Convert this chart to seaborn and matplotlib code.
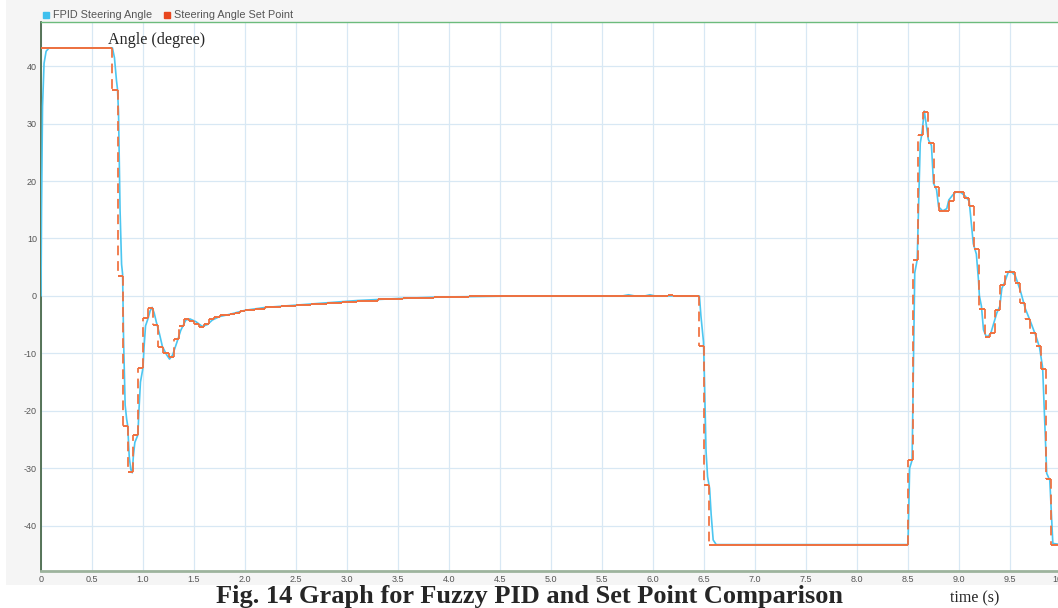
import numpy as np
import pandas as pd
import matplotlib
matplotlib.use("Agg")
import matplotlib.pyplot as plt
import seaborn as sns
from matplotlib.lines import Line2D
from matplotlib.patches import Rectangle

# set point (zero-order hold): change times and held values
sp_time = [0.00, 0.70, 0.75, 0.80, 0.85, 0.90, 0.95, 1.00,
           1.05, 1.10, 1.15, 1.20, 1.25, 1.30, 1.35, 1.40,
           1.45, 1.50, 1.55, 1.60, 1.65, 1.70, 1.75, 1.80,
           1.85, 1.90, 1.95, 2.00, 2.10, 2.20, 2.35, 2.50,
           2.65, 2.80, 2.95, 3.10, 3.30, 3.55, 3.85, 4.20,
           4.60, 6.15, 6.20, 6.45, 6.50, 6.55,
           8.50, 8.55, 8.60, 8.65, 8.70, 8.75, 8.80, 8.90,
           8.95, 9.05, 9.10, 9.15, 9.20, 9.25, 9.30, 9.35,
           9.40, 9.45, 9.55, 9.60, 9.65, 9.70, 9.75, 9.80,
           9.85, 9.90]
sp_value = [43.2, 35.8, 3.5, -22.6, -30.6, -24.2, -12.5, -3.9,
            -2.1, -5.1, -8.9, -10.0, -10.6, -7.5, -5.3, -4.1,
            -4.4, -4.9, -5.4, -4.9, -4.0, -3.7, -3.4, -3.3,
            -3.1, -3.0, -2.7, -2.4, -2.2, -2.0, -1.8, -1.6,
            -1.4, -1.2, -1.0, -0.8, -0.6, -0.4, -0.2, -0.1,
            0.0, 0.15, 0.0, -8.8, -33.0, -43.3,
            -28.6, 6.3, 28.1, 32.1, 26.6, 19.0, 14.8, 16.6,
            18.1, 17.0, 15.7, 8.1, -2.2, -7.2, -6.4, -2.4,
            1.9, 4.1, 2.2, -1.3, -4.1, -6.5, -8.8, -12.8,
            -31.8, -43.3]
sp_end = 10.0

# FPID steering angle response, read point by point
fpid_time = [0.00, 0.005, 0.015, 0.03, 0.05, 0.08, 0.70, 0.72, 0.74, 0.75,
             0.76, 0.775, 0.79, 0.80, 0.81, 0.825, 0.84, 0.85, 0.865, 0.88,
             0.895, 0.905, 0.92, 0.95, 0.96, 0.975, 1.00, 1.01, 1.025, 1.05,
             1.07, 1.09, 1.11, 1.13, 1.16, 1.19, 1.23, 1.26, 1.29, 1.33,
             1.37, 1.42, 1.46, 1.52, 1.58, 1.63, 1.68, 1.75, 1.85, 2.00,
             2.20, 2.50, 2.80, 3.10, 3.50, 3.90, 4.30, 4.70, 5.70, 5.76,
             5.82, 5.92, 5.97, 6.02, 6.455, 6.47, 6.495, 6.505, 6.52, 6.535,
             6.555, 6.57, 6.59, 6.62, 8.50, 8.516, 8.54, 8.566, 8.59, 8.62,
             8.635, 8.66, 8.70, 8.73, 8.75, 8.78, 8.80, 8.84, 8.88, 8.90,
             8.94, 8.97, 9.02, 9.06, 9.10, 9.14, 9.17, 9.19, 9.20, 9.22,
             9.24, 9.27, 9.31, 9.37, 9.40, 9.42, 9.45, 9.48, 9.50, 9.55,
             9.60, 9.65, 9.71, 9.76, 9.79, 9.82, 9.86, 9.89, 9.92, 10.0]
fpid_value = [0.0, 15.0, 33.0, 40.5, 42.6, 43.2, 43.2, 41.5, 37.5, 36.0,
              32.0, 15.0, 5.5, 3.8, -8.0, -19.0, -21.5, -22.6, -28.0, -30.2,
              -30.8, -28.0, -25.5, -24.2, -20.0, -15.0, -12.5, -9.0, -5.2, -3.9,
              -2.6, -2.0, -3.0, -4.5, -6.5, -8.8, -10.2, -11.0, -10.3, -8.2,
              -6.0, -4.2, -4.0, -4.5, -5.3, -5.0, -4.2, -3.6, -3.2, -2.5,
              -2.0, -1.6, -1.2, -0.8, -0.45, -0.2, -0.1, 0.0, 0.0, 0.2,
              0.0, 0.0, 0.2, 0.0, 0.0, -3.5, -8.0, -15.0, -27.0, -31.5,
              -33.5, -38.0, -42.5, -43.3, -43.3, -30.0, -28.6, 4.0, 6.3, 26.6,
              28.1, 32.2, 27.2, 26.2, 19.6, 18.5, 15.5, 14.8, 15.2, 16.7,
              17.6, 18.1, 18.0, 17.4, 16.5, 9.1, 7.3, 3.0, 0.0, -1.8,
              -5.9, -7.2, -6.6, -3.0, -1.8, 1.3, 2.5, 4.0, 4.4, 3.6,
              1.0, -2.2, -4.9, -7.3, -9.0, -12.5, -30.9, -32.1, -43.1, -43.3]

assert len(sp_time) == len(sp_value)
assert len(fpid_time) == len(fpid_value)

cyan = "#4cc6f0"
orange = "#f0703e"

sns.set_style("white")
plt.rcParams["font.family"] = ["Liberation Sans", "DejaVu Sans"]
plt.rcParams["axes.unicode_minus"] = False

fig = plt.figure(figsize=(10.58, 6.08), dpi=100)

# light panel behind the chart (the caption sits below it on white)
panel = Rectangle((6 / 1058, 23 / 608), 1 - 6 / 1058, 1 - 23 / 608,
                  transform=fig.transFigure, facecolor="#f5f5f5",
                  edgecolor="none", zorder=-10)
fig.patches.append(panel)

ax = fig.add_axes([41 / 1058, 37 / 608, 1020 / 1058, 549 / 608])
ax.set_zorder(1)
ax.set_facecolor("white")

df = pd.DataFrame({"time": fpid_time, "angle": fpid_value})
sns.lineplot(data=df, x="time", y="angle", ax=ax, color=cyan, lw=1.2,
             sort=False, estimator=None, zorder=3)

# set point: solid holds, dashed jumps
ends = sp_time[1:] + [sp_end]
ax.hlines(sp_value, sp_time, ends, colors=orange, lw=1.4, zorder=4)
ax.vlines(sp_time[1:], sp_value[:-1], sp_value[1:], colors=orange, lw=1.4,
          linestyles=(0, (5, 3)), zorder=4, alpha=0.9)

ax.set_xlim(0, 10)
ax.set_ylim(-47.9, 47.7)
ax.set_xticks(np.arange(0, 10.01, 0.5))
ax.set_xticklabels(["0"] + [f"{v:.1f}" for v in np.arange(0.5, 10.01, 0.5)])
ax.set_yticks([-40, -30, -20, -10, 0, 10, 20, 30, 40])
ax.grid(True, color="#d8e8f4", lw=0.9)
ax.set_axisbelow(True)
ax.tick_params(axis="both", labelsize=6.5, labelcolor="#555555",
               length=2, width=0.8, color="#555555", pad=1)
ax.set_xlabel("")
ax.set_ylabel("")

ax.spines["left"].set_color("#3d5e3d")
ax.spines["left"].set_linewidth(1.2)
ax.spines["bottom"].set_color("#9db39d")
ax.spines["bottom"].set_linewidth(2.0)
ax.spines["top"].set_color("#6cbb7c")
ax.spines["top"].set_linewidth(1.0)
ax.spines["right"].set_visible(False)

# legend across the top
handles = [Line2D([0], [0], marker="s", ls="none", color="#3fc0ee", markersize=5),
           Line2D([0], [0], marker="s", ls="none", color="#e8461e", markersize=5)]
fig.legend(handles, ["FPID Steering Angle", "Steering Angle Set Point"],
           loc="upper left", bbox_to_anchor=(36 / 1058, 1 - 4 / 608), ncol=2,
           frameon=False, fontsize=7.8, labelcolor="#555555",
           handlelength=0.7, handletextpad=0.3, columnspacing=1.0,
           borderaxespad=0.2)

serif = ["Liberation Serif", "DejaVu Serif"]
fig.text(108 / 1058, 1 - 40 / 608, "Angle (degree)", family=serif,
         fontsize=11.6, va="center", ha="left")
fig.text(530 / 1058, 5 / 608, "Fig. 14 Graph for Fuzzy PID and Set Point Comparison",
         family=serif, fontsize=19, fontweight="bold", ha="center", va="baseline")
fig.text(975 / 1058, 6 / 608, "time (s)", family=serif, fontsize=11.5,
         ha="center", va="baseline")

fig.savefig("out.png", dpi=100)
